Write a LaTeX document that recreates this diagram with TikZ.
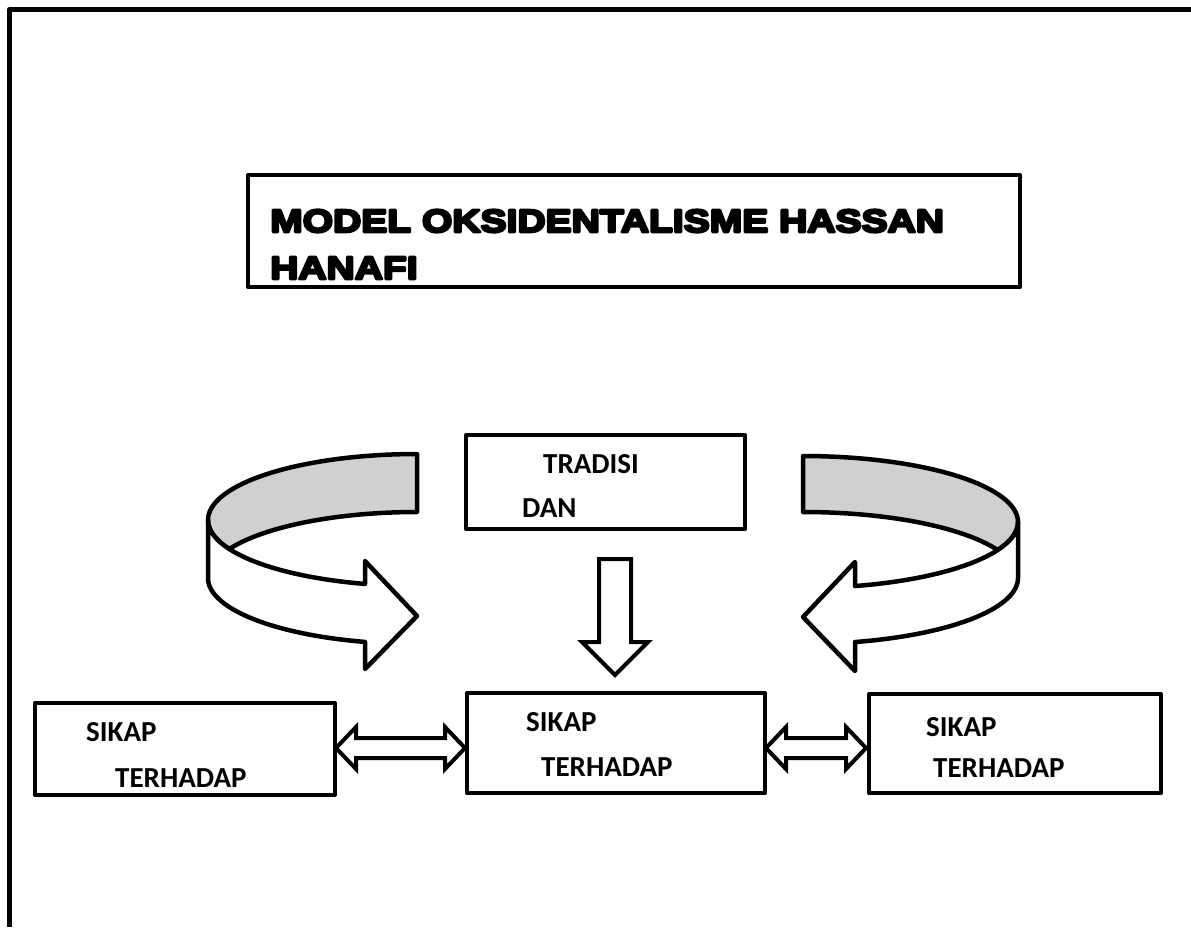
\documentclass[tikz,border=0pt]{standalone}
\usepackage{fontspec}
\setmainfont{Carlito}
\newfontfamily\titlefont[FakeStretch=1.22,FakeBold=8]{Liberation Sans Bold}
\definecolor{ribbon}{RGB}{208,208,208}
\begin{document}
\begin{tikzpicture}[x=1pt,y=-1pt,line join=round]
\tikzset{
  box/.style={draw,line width=4pt,rectangle,inner sep=0pt,outer sep=0pt,anchor=north west},
  lbl/.style={font=\bfseries\fontsize{29}{31}\selectfont,anchor=base west,inner sep=0pt},
  ttl/.style={font=\titlefont\fontsize{32}{34}\selectfont,anchor=base west,inner sep=0pt},
  blk/.style={draw,line width=4pt,fill=white,line join=miter},
  band/.style={draw,line width=4.5pt,line join=round},
}
\useasboundingbox (0,0) rectangle (1191,927);
% page frame
\draw[line width=5.5pt] (1191,9.5) -- (9.5,9.5) -- (9.5,927);

% title
\node[box,minimum width=772pt,minimum height=112pt] (title) at (248,175) {};
\node[ttl] (t1) at (270,232) {MODEL OKSIDENTALISME HASSAN};
\node[ttl] (t2) at (270,279) {HANAFI};

% tradisi box
\node[box,minimum width=279pt,minimum height=94pt] (tbox) at (466,435) {};
\node[lbl] (tr1) at (543,473) {TRADISI};
\node[lbl] (tr2) at (522,517) {DAN};

% bottom boxes
\node[box,minimum width=300pt,minimum height=92pt] (lbox) at (35,703) {};
\node[box,minimum width=298pt,minimum height=100pt] (mbox) at (467,693) {};
\node[box,minimum width=292pt,minimum height=99pt] (rbox) at (869,694) {};
\node[lbl] (l1) at (86,741) {SIKAP};
\node[lbl] (l2) at (115,787) {TERHADAP};
\node[lbl] (m1) at (526,731) {SIKAP};
\node[lbl] (m2) at (541,776) {TERHADAP};
\node[lbl] (r1) at (926,736) {SIKAP};
\node[lbl] (r2) at (933,777) {TERHADAP};

% down arrow from tradisi box to middle box
\draw[blk] (tbox.south) ++(-6.5,30) -- ++(0,83) -- ++(-17,0) -- ++(33,33)
  -- ++(33,-33) -- ++(-17,0) -- ++(0,-83) -- cycle;

% double arrows between boxes
\draw[blk] (lbox.east) ++(1,-1) -- ++(20,-21) -- ++(0,11) -- ++(89,0) -- ++(0,-11)
  -- ++(20,21) -- ++(-20,21) -- ++(0,-11) -- ++(-89,0) -- ++(0,11) -- cycle;
\draw[blk] (mbox.east) ++(1,5) -- ++(20,-21) -- ++(0,11) -- ++(60,0) -- ++(0,-11)
  -- ++(20,21) -- ++(-20,21) -- ++(0,-11) -- ++(-60,0) -- ++(0,11) -- cycle;

% left curved ribbon arrow
\draw[band,fill=ribbon] plot[domain=270:153.9,samples=60] ({417+209*cos(\x)},{520+66*sin(\x)})
  -- plot[domain=206.1:270,samples=40] ({417+209*cos(\x)},{578+66*sin(\x)}) -- cycle;
\draw[band,fill=white] plot[domain=180:104.4,samples=60] ({417+209*cos(\x)},{520+66*sin(\x)})
  -- (365,561) -- (417,616) -- (365,669)
  -- plot[domain=104.4:180,samples=60] ({417+209*cos(\x)},{578+66*sin(\x)}) -- cycle;

% right curved ribbon arrow
\draw[band,fill=ribbon] plot[domain=-90:25.1,samples=60] ({803+215*cos(\x)},{522+66*sin(\x)})
  -- plot[domain=-25.1:-90,samples=40] ({803+215*cos(\x)},{578+66*sin(\x)}) -- cycle;
\draw[band,fill=white] plot[domain=0:76,samples=60] ({803+215*cos(\x)},{522+66*sin(\x)})
  -- (855,562) -- (803,617) -- (855,671)
  -- plot[domain=76:0,samples=60] ({803+215*cos(\x)},{578+66*sin(\x)}) -- cycle;
\end{tikzpicture}
\end{document}
